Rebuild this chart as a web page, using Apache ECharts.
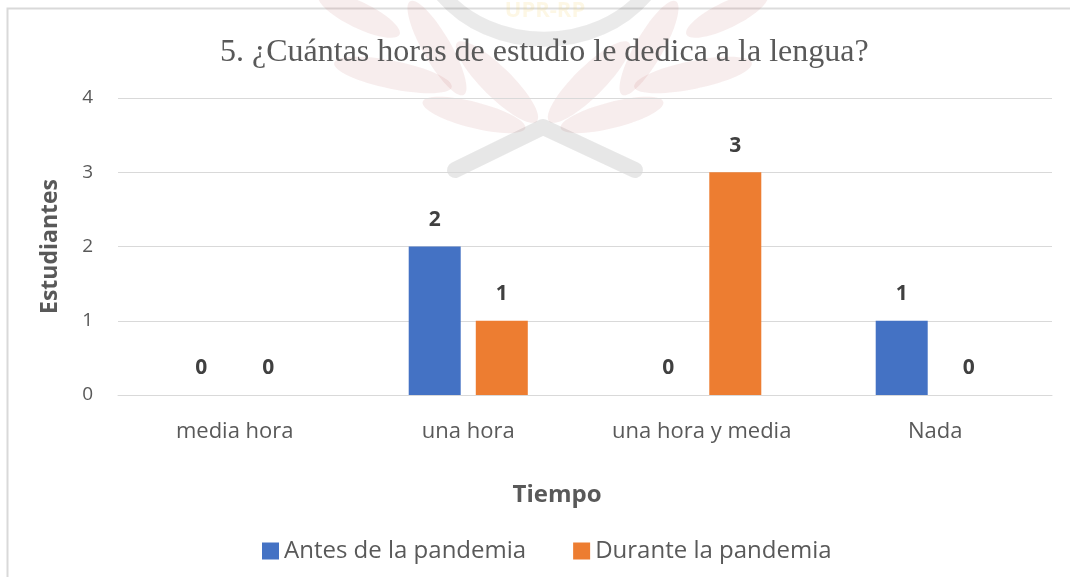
<!DOCTYPE html>
<html>
<head>
<meta charset="utf-8">
<script src="https://cdn.jsdelivr.net/npm/echarts@6/dist/echarts.min.js"></script>
<style>
  html, body { margin: 0; padding: 0; background: #fff; }
  #chart { width: 1070px; height: 577px; }
</style>
</head>
<body>
<div id="chart"></div>
<script>
var categories = ['media hora', 'una hora', 'una hora y media', 'Nada'];
var antes = [0, 2, 0, 1];
var durante = [0, 1, 3, 0];
var seriesNames = ['Antes de la pandemia', 'Durante la pandemia'];
var yTicks = { min: 0, max: 4, interval: 1 };

var textGray = '#595959';
var gridGray = '#D9D9D9';
var font = '"Open Sans", "Noto Sans", sans-serif';

// marca de agua (hojas rosadas y arco gris), aproximada
var cx = 543;
var leaves = [
  { x: 359, y: 15, rx: 45, ry: 13, r: -0.45 },
  { x: 437, y: 48, rx: 54, ry: 14, r: -1.05 },
  { x: 393, y: 75, rx: 60, ry: 14, r: -0.2 },
  { x: 497, y: 82, rx: 56, ry: 15, r: -0.78 },
  { x: 474, y: 115, rx: 53, ry: 13, r: -0.25 }
];
var wm = [];
leaves.forEach(function (l) {
  [1, -1].forEach(function (s) {
    wm.push({
      type: 'ellipse',
      x: s === 1 ? l.x : 2 * cx - l.x,
      y: l.y,
      rotation: s * l.r,
      shape: { cx: 0, cy: 0, rx: l.rx, ry: l.ry },
      style: { fill: 'rgba(180,60,60,0.1)' },
      silent: true
    });
  });
});
wm.push({
  type: 'polyline',
  shape: { points: [[455, 170], [543, 127], [635, 170]] },
  style: { stroke: 'rgba(0,0,0,0.10)', lineWidth: 16, lineCap: 'round', lineJoin: 'round', fill: null },
  silent: true
});
wm.push({
  type: 'bezierCurve',
  shape: { x1: 440, y1: -8, x2: 648, y2: -8, cpx1: 490, cpy1: 55, cpx2: 598, cpy2: 55 },
  style: { stroke: 'rgba(0,0,0,0.09)', lineWidth: 15, fill: null },
  silent: true
});
wm.push({
  type: 'text',
  x: 545, y: 0,
  style: { text: 'UPR-RP', fill: 'rgba(240,200,60,0.15)', font: 'bold 22px "Open Sans", sans-serif', align: 'center' },
  silent: true
});
wm.push({
  type: 'rect',
  shape: { x: 180, y: 0, width: 760, height: 323 },
  style: { fill: 'rgba(255,255,255,0.1)' },
  silent: true
});

var myChart = echarts.init(document.getElementById('chart'), null, { renderer: 'canvas' });
var option = {
  backgroundColor: '#fff',
  animation: false,
  title: {
    text: '5. ¿Cuántas horas de estudio le dedica a la lengua?',
    left: 220,
    top: 37,
    padding: 0,
    textStyle: { fontFamily: '"Liberation Serif", "DejaVu Serif", serif', fontSize: 32, fontWeight: 'normal', color: textGray }
  },
  legend: {
    data: seriesNames,
    left: 257,
    top: 534,
    itemWidth: 17,
    itemHeight: 17,
    itemGap: 47,
    icon: 'rect',
    textStyle: { fontFamily: font, fontSize: 24, color: textGray }
  },
  grid: { left: 118, right: 18, top: 98, bottom: 182, containLabel: false },
  xAxis: {
    type: 'category',
    data: categories,
    name: 'Tiempo',
    nameLocation: 'middle',
    nameGap: 88,
    nameTextStyle: { fontFamily: font, fontSize: 24, fontWeight: 'bold', color: textGray, padding: [0, 56, 0, 0] },
    axisLine: { lineStyle: { color: gridGray, width: 1 } },
    axisTick: { show: false },
    axisLabel: { fontFamily: font, fontSize: 22, color: textGray, margin: 26 }
  },
  yAxis: {
    type: 'value',
    min: yTicks.min,
    max: yTicks.max,
    interval: yTicks.interval,
    name: 'Estudiantes',
    nameLocation: 'middle',
    nameGap: 56,
    nameTextStyle: { fontFamily: font, fontSize: 23, fontWeight: 'bold', color: textGray },
    axisLine: { show: false },
    axisTick: { show: false },
    axisLabel: { fontFamily: font, fontSize: 19, color: textGray, margin: 25 },
    splitLine: { lineStyle: { color: gridGray, width: 1 } }
  },
  series: [
    {
      name: seriesNames[0],
      type: 'bar',
      data: antes,
      barWidth: 52,
      barGap: '29%',
      itemStyle: { color: '#4472C4' },
      label: { show: true, position: 'top', distance: 16, fontFamily: font, fontSize: 21, fontWeight: 'bold', color: '#404040' }
    },
    {
      name: seriesNames[1],
      type: 'bar',
      data: durante,
      barWidth: 52,
      itemStyle: { color: '#ED7D31' },
      label: { show: true, position: 'top', distance: 16, fontFamily: font, fontSize: 21, fontWeight: 'bold', color: '#404040' }
    }
  ],
  graphic: [
    {
      type: 'rect',
      z: -1,
      shape: { x: 7.5, y: 8.5, width: 1100, height: 600 },
      style: { fill: null, stroke: gridGray, lineWidth: 2 },
      silent: true
    },
    { type: 'group', z: 100, children: wm }
  ]
};
myChart.setOption(option);
</script>
</body>
</html>
